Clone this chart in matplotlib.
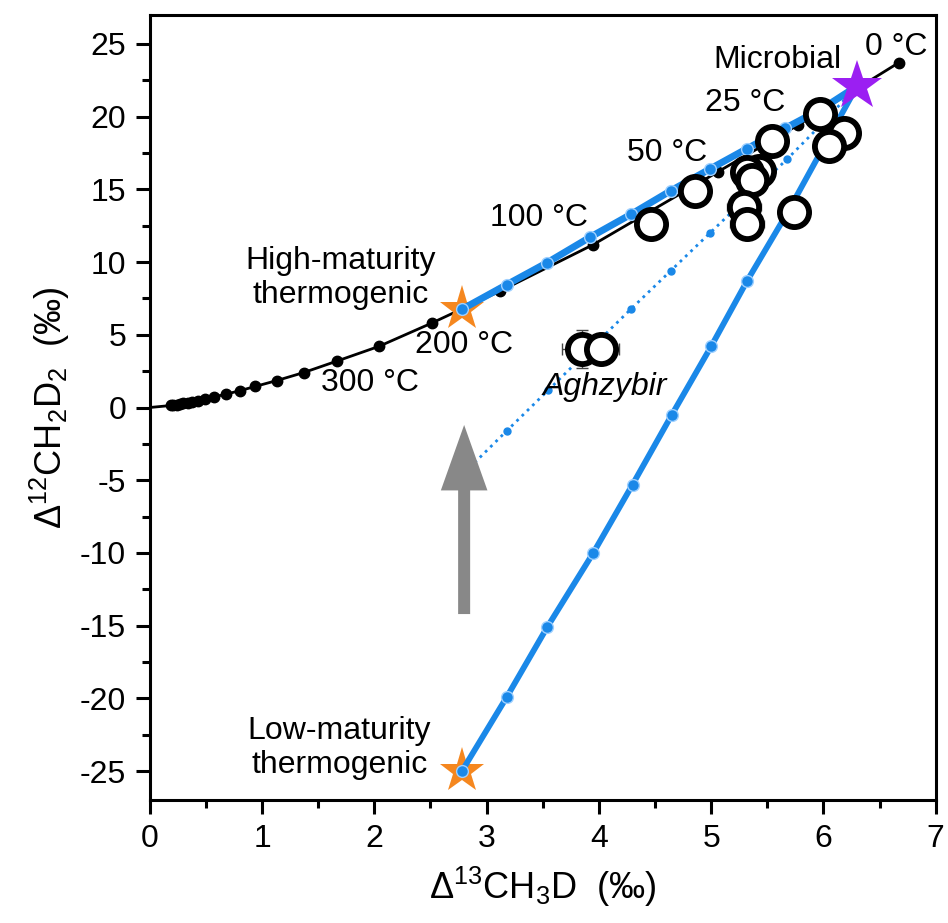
import matplotlib
matplotlib.use("Agg")
import matplotlib.pyplot as plt
from matplotlib.ticker import MultipleLocator

plt.rcParams["font.family"] = ["Liberation Sans", "DejaVu Sans"]
plt.rcParams["mathtext.default"] = "regular"
plt.rcParams["axes.unicode_minus"] = False

# equilibrium curve: labelled dots (0, 25, 50, 100, 150 ... °C) then dense high-T dots
eq_x = [6.67, 5.77, 5.06, 3.95, 3.12, 2.51, 2.04, 1.67, 1.37, 1.13, 0.94, 0.80,
        0.68, 0.57, 0.49, 0.43, 0.38, 0.34, 0.30, 0.27, 0.24, 0.21, 0.19]
eq_y = [23.7, 19.4, 16.2, 11.2, 8.0, 5.8, 4.2, 3.2, 2.4, 1.85, 1.45, 1.15,
        0.92, 0.72, 0.58, 0.48, 0.40, 0.34, 0.28, 0.24, 0.20, 0.17, 0.14]
eq_end = (0.0, 0.0)

# end members
microbial = (6.30, 22.1)
high_mat = (2.78, 6.75)
low_mat = (2.78, -25.0)

# mixing lines (10 % steps)
hm_x = [2.78, 3.18, 3.54, 3.92, 4.29, 4.64, 4.99, 5.32, 5.66, 6.00, 6.30]
hm_y = [6.75, 8.45, 9.96, 11.7, 13.3, 14.9, 16.4, 17.8, 19.2, 20.6, 22.1]
lm_x = [2.78, 3.18, 3.54, 3.95, 4.30, 4.65, 5.00, 5.32, 5.68, 6.00, 6.30]
lm_y = [-25.0, -19.9, -15.1, -10.0, -5.3, -0.5, 4.2, 8.7, 13.4, 17.9, 22.1]
dt_x = [2.80, 3.18, 3.55, 3.92, 4.29, 4.64, 4.99, 5.34, 5.68, 6.00, 6.30]
dt_y = [-4.5, -1.6, 1.2, 4.0, 6.8, 9.4, 12.0, 14.6, 17.1, 19.6, 22.1]

# samples
smp_x = [5.97, 6.18, 6.05, 5.54, 4.86, 4.46, 5.43, 5.32, 5.36, 5.29, 5.32, 5.74]
smp_y = [20.15, 18.84, 17.95, 18.29, 14.86, 12.65, 16.23, 16.16, 15.61, 13.76, 12.65, 13.41]
smp_xerr = [0.05, 0.05, 0.05, 0.05, 0.05, 0.05, 0.08, 0.08, 0.08, 0.15, 0.15, 0.05]
smp_yerr = [0.3, 0.3, 0.3, 0.3, 0.3, 0.3, 0.4, 0.4, 0.4, 0.5, 0.5, 0.3]
agh_x = [3.85, 4.02]
agh_y = [4.05, 4.05]
agh_xerr = [0.18, 0.16]
agh_yerr = [1.3, 0.7]

temp_labels = [("0 °C", 6.65, 24.8), ("25 °C", 5.30, 20.9), ("50 °C", 4.61, 17.5),
               ("100 °C", 3.47, 13.0), ("200 °C", 2.80, 4.3), ("300 °C", 1.96, 1.7)]

blue = "#1a88e8"
fs = 23

fig, ax = plt.subplots(figsize=(9.48, 9.23), dpi=100)
fig.subplots_adjust(left=0.158, right=0.987, bottom=0.133, top=0.984)

ax.plot(list(eq_x) + [eq_end[0]], list(eq_y) + [eq_end[1]], color="black", lw=2.0, zorder=3)
ax.plot(eq_x, eq_y, "o", color="black", ms=7.5, zorder=3)

ax.plot(dt_x, dt_y, ":", color=blue, lw=2.0, marker="o", ms=5, zorder=2)
ax.plot(hm_x, hm_y, "-", color=blue, lw=5, marker="o", ms=8.5,
        mfc=blue, mec="#9fd0ff", mew=1, zorder=5)
ax.plot(lm_x, lm_y, "-", color=blue, lw=4.2, marker="o", ms=8.5,
        mfc=blue, mec="#9fd0ff", mew=1, zorder=5)

ax.arrow(2.80, -14.2, 0, 13.0, width=0.107, head_width=0.415, head_length=4.5,
         length_includes_head=True, color="#888888", ec="none", zorder=4)

ax.plot(*high_mat, "*", color="#f5871f", ms=34, mew=0, zorder=4)
ax.plot(*low_mat, "*", color="#f5871f", ms=34, mew=0, zorder=4)
ax.plot(*microbial, "*", color="#9b1ff2", ms=38, mew=0, zorder=8)

ax.errorbar(smp_x, smp_y, xerr=smp_xerr, yerr=smp_yerr, fmt="none",
            ecolor="#555555", elinewidth=0.8, capsize=3, zorder=6)
ax.plot(smp_x, smp_y, "o", ms=21, mfc="white", mec="black", mew=4.2, zorder=7)
ax.errorbar(agh_x, agh_y, xerr=agh_xerr, yerr=agh_yerr, fmt="none",
            ecolor="#444444", elinewidth=1.0, capsize=4, zorder=6)
ax.plot(agh_x, agh_y, "o", ms=21, mfc="white", mec="black", mew=4.2, zorder=7)

for txt, x, y in temp_labels:
    ax.text(x, y, txt, fontsize=fs, ha="center", va="center", zorder=9)
ax.text(5.59, 23.9, "Microbial", fontsize=fs, ha="center", va="center", zorder=9)
ax.text(1.70, 8.9, "High-maturity\nthermogenic", fontsize=fs, ha="center",
        va="center", linespacing=1.15, zorder=9)
ax.text(1.69, -23.4, "Low-maturity\nthermogenic", fontsize=fs, ha="center",
        va="center", linespacing=1.15, zorder=9)
ax.text(4.05, 1.4, "Aghzybir", fontsize=fs, style="italic", ha="center",
        va="center", zorder=9)

ax.set_xlim(0, 7)
ax.set_ylim(-27, 27)
ax.xaxis.set_major_locator(MultipleLocator(1))
ax.xaxis.set_minor_locator(MultipleLocator(0.5))
ax.yaxis.set_major_locator(MultipleLocator(5))
ax.yaxis.set_minor_locator(MultipleLocator(2.5))
ax.tick_params(which="major", length=10, width=2.2, labelsize=fs, pad=7)
ax.tick_params(which="minor", length=6, width=2.2)
for sp in ax.spines.values():
    sp.set_linewidth(2.2)

ax.set_xlabel("Δ$^{13}$CH$_3$D  (‰)", fontsize=26, labelpad=8)
ax.set_ylabel("Δ$^{12}$CH$_2$D$_2$  (‰)", fontsize=26, labelpad=6)

fig.savefig("out.png", dpi=100)
